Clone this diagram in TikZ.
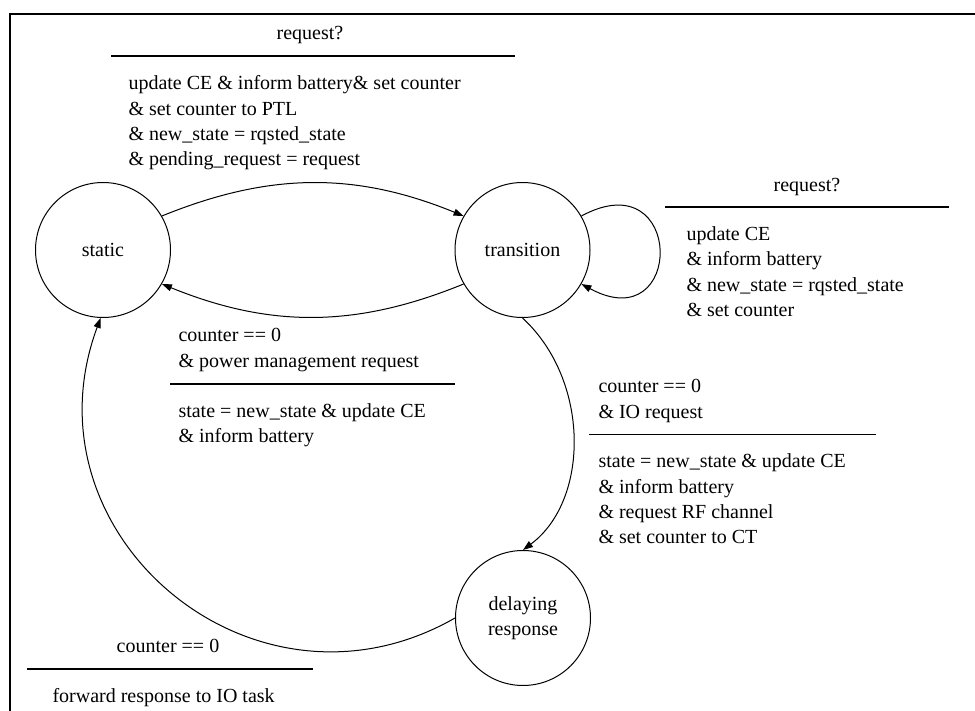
\documentclass[tikz,border=0pt]{standalone}
\usepackage{fontspec}
\setmainfont{Liberation Serif}
\usetikzlibrary{arrows.meta}

\tikzset{
  stnode/.style={draw, circle, minimum size=135pt, inner sep=0pt, align=center},
  tarrow/.style={draw, -{Triangle[length=10pt,width=7pt]}},
  guard/.style={anchor=base west, align=left, inner sep=0pt},
  head/.style={anchor=base, inner sep=0pt},
  sepline/.style={draw, line width=1.2pt}
}

\begin{document}
\begin{tikzpicture}[x=1pt, y=-1pt, line width=1pt, font=\fontsize{20}{25.3}\selectfont]
        \useasboundingbox (0,0) rectangle (975,711);

        %%FRAME
        \path[draw, line width=2.2pt] (10.2,711) -- (10.2,14) -- (975,14);

        %%STATES
        \node[stnode] (static) at (103,250) {static};
        \node[stnode] (trans) at (522.5,250) {transition};
        \node[stnode] (delay) at (523,618) {delaying\\response};

        %%TRANSITIONS
        % static -> transition
        \path[tarrow] (static.30) .. controls (270,172) and (356,172) .. (trans.150);

        % transition -> static
        \path[tarrow] (trans.210) .. controls (356,328) and (270,328) .. (static.330);

        % transition self loop
        \path[tarrow] (trans.30) .. controls (685,160) and (685,340) .. (trans.330);

        % transition -> delaying response
        \path[tarrow] (trans.270) .. controls (590,380) and (590,500) .. (delay.90);

        % delaying response -> static
        \path[tarrow] (delay.180) .. controls (254,733) and (20,535) .. (static.268);

        %%LABELS (multi-line nodes sit on the baseline of their last line)
        % static -> transition
        \node[head] (reqa) at (310,39.5) {request?};
        \path[sepline] (111,56) -- (514.7,56);
        \node[guard] (acta) at (128,165.9) {update CE \& inform battery\& set counter\\\& set counter to PTL\\\& new\_state = rqsted\_state\\\& pending\_request = request};

        % self loop
        \node[head] (reqb) at (807,191.7) {request?};
        \path[sepline] (665,207) -- (949,207);
        \node[guard] (actb) at (686,316.6) {update CE\\\& inform battery\\\& new\_state = rqsted\_state\\\& set counter};

        % transition -> static
        \node[guard] (grdc) at (178,367) {counter == 0\\\& power management request};
        \path[sepline] (170,384) -- (455.3,384);
        \node[guard] (actc) at (178,442.6) {state = new\_state \& update CE\\\& inform battery};

        % transition -> delaying response
        \node[guard] (grdd) at (598,418) {counter == 0\\\& IO request};
        \path[sepline] (589,434.3) -- (875.7,434.3);
        \node[guard] (actd) at (598,543.6) {state = new\_state \& update CE\\\& inform battery\\\& request RF channel\\\& set counter to CT};

        % delaying response -> static
        \node[head] (grde) at (168,652.7) {counter == 0};
        \path[sepline] (27,669) -- (313,669);
        \node[guard] (acte) at (52,702.7) {forward response to IO task};

    \end{tikzpicture}
\end{document}
